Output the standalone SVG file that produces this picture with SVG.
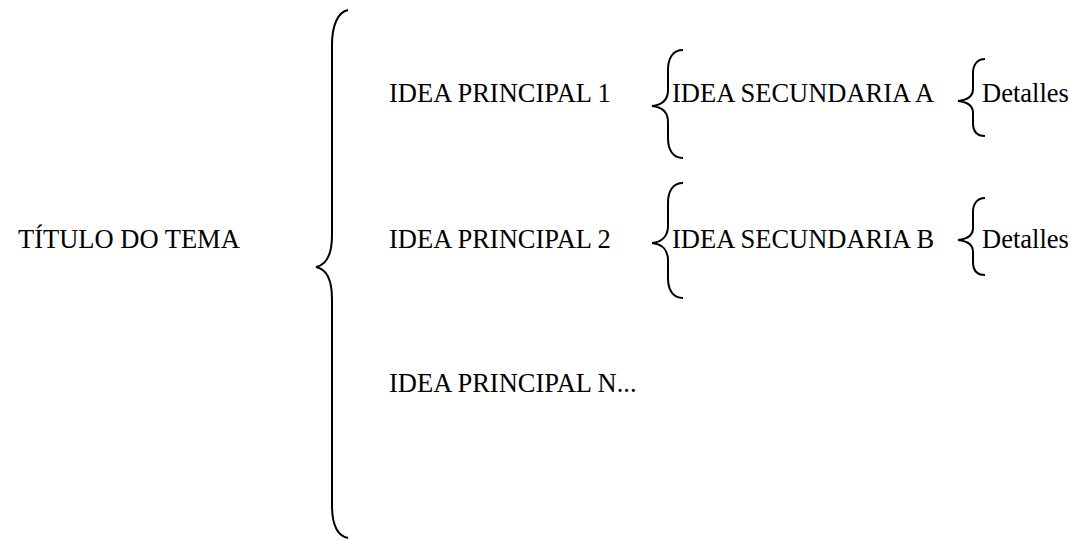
<svg xmlns="http://www.w3.org/2000/svg" width="1069" height="541" viewBox="0 0 1069 541">
<style>
text{font-family:"Liberation Serif","Times New Roman",serif;font-size:26.5px;fill:#000}
.br{fill:none;stroke:#000;stroke-width:2}
</style>
<rect width="1069" height="541" fill="#fff"/>
<g id="title"><text x="18" y="248">TÍTULO DO TEMA</text></g>
<g id="idea1"><text x="389" y="102">IDEA PRINCIPAL 1</text></g>
<g id="idea2"><text x="389" y="248">IDEA PRINCIPAL 2</text></g>
<g id="ideaN"><text x="389" y="392">IDEA PRINCIPAL N...</text></g>
<g id="secA"><text x="672" y="102">IDEA SECUNDARIA A</text></g>
<g id="secB"><text x="672" y="248">IDEA SECUNDARIA B</text></g>
<g id="detA"><text x="982" y="102">Detalles</text></g>
<g id="detB"><text x="982" y="248">Detalles</text></g>
<g id="connectors">
<path class="br" d="M348 10 C338 12,332 25,332 45 L332 235 C332 255,326 265,316 267 C326 269,332 279,332 299 L332 505 C332 525,338 536,348 538"/>
<path class="br" d="M683 50 C673 50,668 58,668 70 L668 90 C668 100,662 105,652 106 C662 107,668 112,668 122 L668 138 C668 150,673 158,683 158"/>
<path class="br" d="M683 183 C673 183,668 191,668 203 L668 226 C668 236,662 242,652 243 C662 244,668 250,668 260 L668 278 C668 290,673 298,683 298"/>
<path class="br" d="M985 59 C977 59,973 65,973 73 L973 89 C973 96,968 100,958 101 C968 102,973 106,973 113 L973 123 C973 131,977 136,985 136"/>
<path class="br" d="M985 198 C977 198,973 204,973 212 L973 228 C973 235,968 239,958 240 C968 241,973 245,973 252 L973 262 C973 270,977 275,985 275"/>
</g>
</svg>
